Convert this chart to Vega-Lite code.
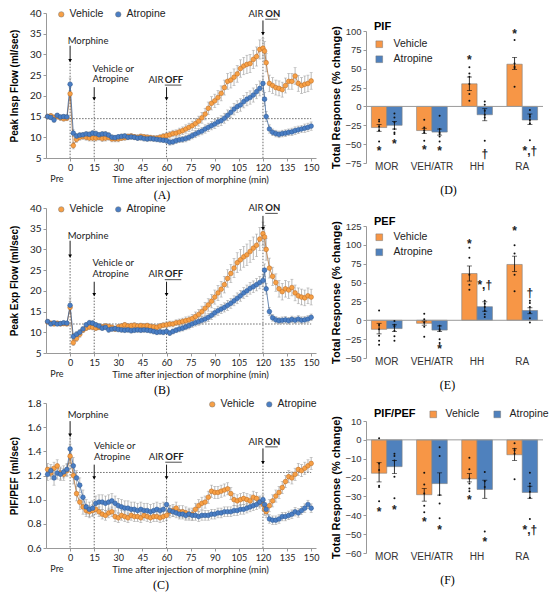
{
  "$schema": "https://vega.github.io/schema/vega-lite/v6.json",
  "background": "white",
  "padding": {"left": 9, "top": 8, "right": 3, "bottom": 2},
  "columns": 2,
  "bounds": "flush",
  "spacing": {"row": 44, "column": 50},
  "resolve": {"scale": {"color": "independent"}, "legend": {"color": "independent"}},
  "config": {"view": {"stroke": null}, "axis": {"grid": false, "labelOverlap": false}, "axisY": {"labelOverlap": false}, "legend": {"padding": 0}},
  "datasets": {
    "A": [
      {"t":-14,"v":15.0,"ve":0.6,"w":15.0,"we":0.5},{"t":-12,"v":15.2,"ve":0.6,"w":14.8,"we":0.5},{"t":-10,"v":14.8,"ve":0.6,"w":14.2,"we":0.6},{"t":-8,"v":15.0,"ve":0.6,"w":15.3,"we":0.5},{"t":-6,"v":14.7,"ve":0.6,"w":14.9,"we":0.5},{"t":-4,"v":14.5,"ve":0.6,"w":15.0,"we":0.5},{"t":-2,"v":14.6,"ve":0.6,"w":14.9,"we":0.5},
      {"t":0,"v":20.5,"ve":1.5,"w":22.8,"we":1.5},{"t":2,"v":8.0,"ve":0.8,"w":11.0,"we":0.8},{"t":4,"v":9.5,"ve":0.7,"w":10.3,"we":0.6},{"t":6,"v":10.0,"ve":0.7,"w":10.5,"we":0.6},{"t":8,"v":10.2,"ve":0.7,"w":10.6,"we":0.6},{"t":10,"v":10.0,"ve":0.7,"w":10.8,"we":0.6},{"t":12,"v":9.8,"ve":0.7,"w":10.7,"we":0.6},{"t":14,"v":9.8,"ve":0.7,"w":11.0,"we":0.6},{"t":16,"v":9.8,"ve":0.7,"w":10.9,"we":0.6},{"t":18,"v":10.0,"ve":0.7,"w":10.6,"we":0.6},{"t":20,"v":9.7,"ve":0.7,"w":10.8,"we":0.6},{"t":22,"v":9.8,"ve":0.7,"w":10.8,"we":0.6},{"t":24,"v":10.0,"ve":0.7,"w":10.5,"we":0.6},{"t":26,"v":9.6,"ve":0.7,"w":10.0,"we":0.6},{"t":28,"v":9.6,"ve":0.7,"w":9.9,"we":0.6},{"t":30,"v":9.6,"ve":0.7,"w":10.1,"we":0.6},
      {"t":32,"v":9.8,"ve":0.6,"w":10.2,"we":0.6},{"t":34,"v":9.9,"ve":0.6,"w":10.3,"we":0.6},{"t":36,"v":10.2,"ve":0.6,"w":10.0,"we":0.6},{"t":38,"v":10.3,"ve":0.6,"w":10.1,"we":0.6},{"t":40,"v":10.1,"ve":0.6,"w":10.0,"we":0.6},{"t":42,"v":10.0,"ve":0.6,"w":9.8,"we":0.6},{"t":44,"v":10.2,"ve":0.6,"w":9.9,"we":0.6},{"t":46,"v":10.1,"ve":0.6,"w":9.7,"we":0.6},{"t":48,"v":10.0,"ve":0.6,"w":9.6,"we":0.6},{"t":50,"v":9.9,"ve":0.6,"w":9.7,"we":0.6},{"t":52,"v":9.8,"ve":0.6,"w":9.6,"we":0.6},{"t":54,"v":9.8,"ve":0.6,"w":9.5,"we":0.6},{"t":56,"v":10.0,"ve":0.6,"w":9.4,"we":0.6},{"t":58,"v":10.2,"ve":0.7,"w":9.3,"we":0.6},{"t":60,"v":10.4,"ve":0.7,"w":9.2,"we":0.7},
      {"t":62,"v":10.6,"ve":0.8,"w":8.8,"we":0.7},{"t":64,"v":10.9,"ve":0.8,"w":8.9,"we":0.7},{"t":66,"v":11.0,"ve":0.8,"w":9.2,"we":0.7},{"t":68,"v":11.3,"ve":0.9,"w":9.4,"we":0.7},{"t":70,"v":11.6,"ve":0.9,"w":9.5,"we":0.7},{"t":72,"v":12.0,"ve":1.0,"w":9.7,"we":0.8},{"t":74,"v":12.4,"ve":1.0,"w":10.0,"we":0.8},{"t":76,"v":12.8,"ve":1.1,"w":10.4,"we":0.8},{"t":78,"v":13.3,"ve":1.2,"w":10.8,"we":0.9},{"t":80,"v":13.9,"ve":1.2,"w":11.2,"we":0.9},{"t":82,"v":14.7,"ve":1.3,"w":11.5,"we":0.9},{"t":84,"v":15.6,"ve":1.4,"w":12.0,"we":1.0},{"t":86,"v":17.0,"ve":1.5,"w":12.4,"we":1.0},{"t":88,"v":18.2,"ve":1.6,"w":12.8,"we":1.0},{"t":90,"v":18.8,"ve":1.6,"w":13.2,"we":1.1},
      {"t":92,"v":19.6,"ve":1.7,"w":13.7,"we":1.1},{"t":94,"v":20.6,"ve":1.8,"w":14.0,"we":1.2},{"t":96,"v":22.0,"ve":1.8,"w":14.6,"we":1.2},{"t":98,"v":23.5,"ve":1.9,"w":15.3,"we":1.3},{"t":100,"v":23.8,"ve":1.9,"w":16.0,"we":1.3},{"t":102,"v":24.5,"ve":2.0,"w":16.8,"we":1.4},{"t":104,"v":25.3,"ve":2.0,"w":17.4,"we":1.4},{"t":106,"v":26.6,"ve":2.1,"w":17.8,"we":1.5},{"t":108,"v":27.2,"ve":2.1,"w":18.6,"we":1.5},{"t":110,"v":27.6,"ve":2.2,"w":19.2,"we":1.6},{"t":112,"v":27.8,"ve":2.2,"w":19.6,"we":1.6},{"t":114,"v":28.8,"ve":2.2,"w":20.2,"we":1.7},{"t":116,"v":29.5,"ve":2.3,"w":21.0,"we":1.7},{"t":118,"v":31.2,"ve":2.3,"w":21.8,"we":1.8},{"t":120,"v":31.5,"ve":2.4,"w":23.0,"we":1.8},
      {"t":121,"v":30.8,"ve":2.3,"w":19.2,"we":1.6},{"t":122,"v":28.0,"ve":2.2,"w":15.0,"we":1.2},{"t":124,"v":23.0,"ve":2.0,"w":12.0,"we":1.0},{"t":126,"v":22.5,"ve":1.9,"w":11.2,"we":0.8},{"t":128,"v":22.0,"ve":1.8,"w":10.9,"we":0.8},{"t":130,"v":21.8,"ve":1.8,"w":10.7,"we":0.8},{"t":132,"v":21.5,"ve":1.8,"w":10.9,"we":0.8},{"t":134,"v":22.5,"ve":1.8,"w":11.0,"we":0.8},{"t":136,"v":23.5,"ve":1.9,"w":11.2,"we":0.8},{"t":138,"v":23.5,"ve":1.9,"w":11.3,"we":0.9},{"t":140,"v":24.8,"ve":2.0,"w":11.6,"we":0.9},{"t":142,"v":23.0,"ve":1.9,"w":11.8,"we":0.9},{"t":144,"v":22.5,"ve":1.9,"w":12.0,"we":0.9},{"t":146,"v":22.8,"ve":2.0,"w":12.2,"we":1.0},{"t":148,"v":23.0,"ve":2.0,"w":12.4,"we":1.0},{"t":150,"v":23.6,"ve":2.0,"w":12.7,"we":1.0}
    ],
    "B": [
      {"t":-14,"v":12.5,"ve":0.4,"w":12.6,"we":0.4},{"t":-12,"v":12.2,"ve":0.4,"w":12.0,"we":0.4},{"t":-10,"v":12.0,"ve":0.4,"w":12.3,"we":0.4},{"t":-8,"v":12.2,"ve":0.4,"w":12.0,"we":0.4},{"t":-6,"v":12.0,"ve":0.4,"w":12.1,"we":0.4},{"t":-4,"v":12.1,"ve":0.4,"w":12.3,"we":0.4},{"t":-2,"v":12.0,"ve":0.4,"w":12.2,"we":0.4},
      {"t":0,"v":16.0,"ve":1.5,"w":16.5,"we":1.8},{"t":2,"v":7.5,"ve":0.7,"w":9.0,"we":0.7},{"t":4,"v":8.5,"ve":0.7,"w":9.5,"we":0.7},{"t":6,"v":9.5,"ve":0.7,"w":10.0,"we":0.7},{"t":8,"v":10.5,"ve":0.6,"w":10.8,"we":0.6},{"t":10,"v":11.0,"ve":0.6,"w":11.8,"we":0.6},{"t":12,"v":11.3,"ve":0.6,"w":12.3,"we":0.6},{"t":14,"v":11.2,"ve":0.6,"w":12.2,"we":0.6},{"t":16,"v":11.0,"ve":0.6,"w":11.8,"we":0.6},{"t":18,"v":11.2,"ve":0.6,"w":11.5,"we":0.6},{"t":20,"v":11.3,"ve":0.6,"w":11.0,"we":0.6},{"t":22,"v":11.5,"ve":0.6,"w":11.2,"we":0.6},{"t":24,"v":11.4,"ve":0.6,"w":10.6,"we":0.6},{"t":26,"v":11.2,"ve":0.6,"w":10.8,"we":0.6},{"t":28,"v":10.8,"ve":0.6,"w":10.9,"we":0.6},{"t":30,"v":11.3,"ve":0.6,"w":10.7,"we":0.6},
      {"t":32,"v":11.5,"ve":0.6,"w":10.6,"we":0.6},{"t":34,"v":11.8,"ve":0.6,"w":10.5,"we":0.6},{"t":36,"v":11.5,"ve":0.6,"w":10.6,"we":0.6},{"t":38,"v":11.6,"ve":0.6,"w":10.4,"we":0.6},{"t":40,"v":11.7,"ve":0.6,"w":10.5,"we":0.6},{"t":42,"v":11.5,"ve":0.6,"w":10.6,"we":0.6},{"t":44,"v":11.6,"ve":0.6,"w":10.5,"we":0.6},{"t":46,"v":11.5,"ve":0.6,"w":10.6,"we":0.6},{"t":48,"v":11.6,"ve":0.6,"w":10.5,"we":0.6},{"t":50,"v":11.4,"ve":0.6,"w":10.4,"we":0.6},{"t":52,"v":11.3,"ve":0.6,"w":10.2,"we":0.6},{"t":54,"v":11.2,"ve":0.6,"w":10.0,"we":0.6},{"t":56,"v":11.5,"ve":0.6,"w":10.1,"we":0.6},{"t":58,"v":11.7,"ve":0.6,"w":10.0,"we":0.6},{"t":60,"v":11.8,"ve":0.7,"w":10.2,"we":0.6},
      {"t":62,"v":12.0,"ve":0.7,"w":9.8,"we":0.6},{"t":64,"v":12.0,"ve":0.7,"w":10.2,"we":0.6},{"t":66,"v":12.3,"ve":0.7,"w":10.5,"we":0.6},{"t":68,"v":12.4,"ve":0.8,"w":10.8,"we":0.7},{"t":70,"v":12.6,"ve":0.8,"w":11.0,"we":0.7},{"t":72,"v":12.8,"ve":0.9,"w":11.3,"we":0.7},{"t":74,"v":13.0,"ve":0.9,"w":11.6,"we":0.8},{"t":76,"v":13.3,"ve":1.0,"w":12.0,"we":0.8},{"t":78,"v":13.8,"ve":1.1,"w":12.3,"we":0.8},{"t":80,"v":14.3,"ve":1.2,"w":12.6,"we":0.9},{"t":82,"v":15.0,"ve":1.3,"w":12.9,"we":0.9},{"t":84,"v":15.8,"ve":1.4,"w":13.2,"we":0.9},{"t":86,"v":16.6,"ve":1.5,"w":13.6,"we":1.0},{"t":88,"v":17.5,"ve":1.6,"w":14.1,"we":1.0},{"t":90,"v":18.5,"ve":1.7,"w":14.7,"we":1.0},
      {"t":92,"v":19.5,"ve":1.8,"w":15.2,"we":1.1},{"t":94,"v":20.4,"ve":1.9,"w":15.6,"we":1.1},{"t":96,"v":21.5,"ve":2.0,"w":16.0,"we":1.1},{"t":98,"v":23.0,"ve":2.1,"w":16.5,"we":1.2},{"t":100,"v":24.2,"ve":2.2,"w":17.0,"we":1.2},{"t":102,"v":25.5,"ve":2.3,"w":17.6,"we":1.2},{"t":104,"v":26.8,"ve":2.4,"w":18.2,"we":1.3},{"t":106,"v":27.5,"ve":2.5,"w":18.8,"we":1.3},{"t":108,"v":28.2,"ve":2.5,"w":19.5,"we":1.3},{"t":110,"v":28.7,"ve":2.6,"w":20.0,"we":1.4},{"t":112,"v":29.5,"ve":2.6,"w":20.6,"we":1.4},{"t":114,"v":30.3,"ve":2.7,"w":21.0,"we":1.4},{"t":116,"v":31.0,"ve":2.7,"w":21.5,"we":1.5},{"t":118,"v":32.5,"ve":2.8,"w":22.0,"we":1.5},{"t":120,"v":33.8,"ve":2.8,"w":22.5,"we":1.5},
      {"t":121,"v":33.0,"ve":2.8,"w":25.0,"we":1.5},{"t":122,"v":30.0,"ve":2.6,"w":20.5,"we":1.3},{"t":124,"v":25.5,"ve":2.4,"w":15.0,"we":1.0},{"t":126,"v":23.5,"ve":2.2,"w":13.5,"we":0.8},{"t":128,"v":22.0,"ve":2.1,"w":13.0,"we":0.8},{"t":130,"v":20.5,"ve":2.0,"w":12.8,"we":0.8},{"t":132,"v":19.8,"ve":2.0,"w":12.9,"we":0.8},{"t":134,"v":20.5,"ve":2.0,"w":13.0,"we":0.8},{"t":136,"v":20.2,"ve":2.0,"w":12.8,"we":0.8},{"t":138,"v":20.8,"ve":2.0,"w":13.1,"we":0.8},{"t":140,"v":19.5,"ve":1.9,"w":12.9,"we":0.8},{"t":142,"v":18.8,"ve":1.9,"w":13.2,"we":0.8},{"t":144,"v":18.5,"ve":1.9,"w":12.9,"we":0.8},{"t":146,"v":18.3,"ve":1.9,"w":13.0,"we":0.8},{"t":148,"v":18.8,"ve":1.9,"w":13.2,"we":0.8},{"t":150,"v":18.5,"ve":1.9,"w":13.6,"we":0.8}
    ],
    "C": [
      {"t":-14,"v":1.25,"ve":0.05,"w":1.21,"we":0.05},{"t":-12,"v":1.22,"ve":0.05,"w":1.24,"we":0.05},{"t":-10,"v":1.26,"ve":0.05,"w":1.18,"we":0.06},{"t":-8,"v":1.28,"ve":0.05,"w":1.22,"we":0.05},{"t":-6,"v":1.22,"ve":0.05,"w":1.21,"we":0.05},{"t":-4,"v":1.21,"ve":0.05,"w":1.23,"we":0.05},{"t":-2,"v":1.24,"ve":0.05,"w":1.25,"we":0.05},
      {"t":0,"v":1.36,"ve":0.1,"w":1.42,"we":0.12},{"t":2,"v":1.20,"ve":0.07,"w":1.28,"we":0.07},{"t":4,"v":1.05,"ve":0.06,"w":1.18,"we":0.06},{"t":6,"v":0.98,"ve":0.06,"w":1.12,"we":0.06},{"t":8,"v":0.94,"ve":0.06,"w":1.02,"we":0.06},{"t":10,"v":0.91,"ve":0.05,"w":0.94,"we":0.06},{"t":12,"v":0.90,"ve":0.05,"w":0.92,"we":0.06},{"t":14,"v":0.91,"ve":0.05,"w":0.93,"we":0.06},{"t":16,"v":0.92,"ve":0.04,"w":0.97,"we":0.06},{"t":18,"v":0.90,"ve":0.04,"w":0.98,"we":0.06},{"t":20,"v":0.88,"ve":0.04,"w":0.98,"we":0.06},{"t":22,"v":0.87,"ve":0.04,"w":0.97,"we":0.06},{"t":24,"v":0.89,"ve":0.04,"w":0.98,"we":0.06},{"t":26,"v":0.90,"ve":0.04,"w":0.99,"we":0.06},{"t":28,"v":0.86,"ve":0.04,"w":0.97,"we":0.06},{"t":30,"v":0.85,"ve":0.04,"w":0.95,"we":0.06},
      {"t":32,"v":0.87,"ve":0.04,"w":0.94,"we":0.06},{"t":34,"v":0.86,"ve":0.04,"w":0.93,"we":0.06},{"t":36,"v":0.85,"ve":0.04,"w":0.93,"we":0.06},{"t":38,"v":0.87,"ve":0.04,"w":0.92,"we":0.06},{"t":40,"v":0.86,"ve":0.04,"w":0.92,"we":0.06},{"t":42,"v":0.86,"ve":0.04,"w":0.91,"we":0.06},{"t":44,"v":0.85,"ve":0.04,"w":0.92,"we":0.06},{"t":46,"v":0.87,"ve":0.04,"w":0.91,"we":0.06},{"t":48,"v":0.86,"ve":0.04,"w":0.91,"we":0.06},{"t":50,"v":0.85,"ve":0.04,"w":0.90,"we":0.06},{"t":52,"v":0.86,"ve":0.04,"w":0.91,"we":0.06},{"t":54,"v":0.86,"ve":0.04,"w":0.92,"we":0.06},{"t":56,"v":0.85,"ve":0.04,"w":0.91,"we":0.06},{"t":58,"v":0.86,"ve":0.04,"w":0.92,"we":0.06},{"t":60,"v":0.87,"ve":0.04,"w":0.96,"we":0.06},
      {"t":62,"v":0.90,"ve":0.05,"w":0.91,"we":0.04},{"t":64,"v":0.91,"ve":0.05,"w":0.90,"we":0.04},{"t":66,"v":0.93,"ve":0.05,"w":0.89,"we":0.04},{"t":68,"v":0.90,"ve":0.05,"w":0.88,"we":0.04},{"t":70,"v":0.90,"ve":0.05,"w":0.88,"we":0.04},{"t":72,"v":0.89,"ve":0.05,"w":0.87,"we":0.04},{"t":74,"v":0.88,"ve":0.05,"w":0.88,"we":0.04},{"t":76,"v":0.88,"ve":0.05,"w":0.87,"we":0.04},{"t":78,"v":0.92,"ve":0.05,"w":0.87,"we":0.04},{"t":80,"v":0.95,"ve":0.05,"w":0.86,"we":0.04},{"t":82,"v":0.97,"ve":0.05,"w":0.87,"we":0.04},{"t":84,"v":0.98,"ve":0.05,"w":0.87,"we":0.04},{"t":86,"v":1.02,"ve":0.05,"w":0.87,"we":0.04},{"t":88,"v":1.07,"ve":0.05,"w":0.88,"we":0.04},{"t":90,"v":1.06,"ve":0.05,"w":0.88,"we":0.04},
      {"t":92,"v":1.06,"ve":0.05,"w":0.89,"we":0.04},{"t":94,"v":1.07,"ve":0.05,"w":0.89,"we":0.04},{"t":96,"v":1.08,"ve":0.05,"w":0.90,"we":0.04},{"t":98,"v":1.09,"ve":0.05,"w":0.90,"we":0.04},{"t":100,"v":1.05,"ve":0.05,"w":0.90,"we":0.04},{"t":102,"v":1.00,"ve":0.05,"w":0.91,"we":0.04},{"t":104,"v":0.99,"ve":0.05,"w":0.91,"we":0.04},{"t":106,"v":1.00,"ve":0.05,"w":0.92,"we":0.04},{"t":108,"v":1.01,"ve":0.05,"w":0.92,"we":0.04},{"t":110,"v":1.00,"ve":0.05,"w":0.93,"we":0.04},{"t":112,"v":0.99,"ve":0.05,"w":0.94,"we":0.04},{"t":114,"v":1.02,"ve":0.05,"w":0.95,"we":0.04},{"t":116,"v":1.01,"ve":0.05,"w":0.96,"we":0.04},{"t":118,"v":0.98,"ve":0.05,"w":0.98,"we":0.04},{"t":120,"v":0.96,"ve":0.05,"w":1.00,"we":0.04},
      {"t":121,"v":0.92,"ve":0.05,"w":0.96,"we":0.035},{"t":122,"v":0.90,"ve":0.05,"w":0.92,"we":0.035},{"t":124,"v":0.95,"ve":0.05,"w":0.84,"we":0.035},{"t":126,"v":0.99,"ve":0.05,"w":0.83,"we":0.035},{"t":128,"v":1.03,"ve":0.05,"w":0.83,"we":0.035},{"t":130,"v":1.06,"ve":0.05,"w":0.84,"we":0.035},{"t":132,"v":1.10,"ve":0.05,"w":0.86,"we":0.035},{"t":134,"v":1.15,"ve":0.05,"w":0.86,"we":0.035},{"t":136,"v":1.19,"ve":0.05,"w":0.87,"we":0.035},{"t":138,"v":1.18,"ve":0.05,"w":0.88,"we":0.035},{"t":140,"v":1.21,"ve":0.05,"w":0.90,"we":0.035},{"t":142,"v":1.25,"ve":0.05,"w":0.89,"we":0.035},{"t":144,"v":1.24,"ve":0.05,"w":0.91,"we":0.035},{"t":146,"v":1.26,"ve":0.05,"w":0.93,"we":0.035},{"t":148,"v":1.28,"ve":0.05,"w":0.96,"we":0.035},{"t":150,"v":1.30,"ve":0.05,"w":0.93,"we":0.035}
    ],
    "barD": [
      {"c":"MOR","g":"Vehicle","v":-28,"lo":-33,"hi":-24},{"c":"MOR","g":"Atropine","v":-25,"lo":-30,"hi":-20},
      {"c":"VEH/ATR","g":"Vehicle","v":-32,"lo":-36,"hi":-29},{"c":"VEH/ATR","g":"Atropine","v":-34,"lo":-38,"hi":-30},
      {"c":"HH","g":"Vehicle","v":30,"lo":21,"hi":39},{"c":"HH","g":"Atropine","v":-11,"lo":-19,"hi":-3},
      {"c":"RA","g":"Vehicle","v":56,"lo":49,"hi":65},{"c":"RA","g":"Atropine","v":-18,"lo":-24,"hi":-10}
    ],
    "barE": [
      {"c":"MOR","g":"Vehicle","v":-12,"lo":-18,"hi":-4},{"c":"MOR","g":"Atropine","v":-11,"lo":-15,"hi":-6},
      {"c":"VEH/ATR","g":"Vehicle","v":-4,"lo":-6.5,"hi":-1},{"c":"VEH/ATR","g":"Atropine","v":-13,"lo":-15,"hi":-7.5},
      {"c":"HH","g":"Vehicle","v":62,"lo":52,"hi":72},{"c":"HH","g":"Atropine","v":18,"lo":12,"hi":24.5},
      {"c":"RA","g":"Vehicle","v":74,"lo":64.5,"hi":85},{"c":"RA","g":"Atropine","v":13,"lo":8.7,"hi":16.6}
    ],
    "barF": [
      {"c":"MOR","g":"Vehicle","v":-17.7,"lo":-22.3,"hi":-12.1},{"c":"MOR","g":"Atropine","v":-14.2,"lo":-17.9,"hi":-10.9},
      {"c":"VEH/ATR","g":"Vehicle","v":-29.1,"lo":-32.5,"hi":-25.8},{"c":"VEH/ATR","g":"Atropine","v":-23.2,"lo":-29.3,"hi":-17.5},
      {"c":"HH","g":"Vehicle","v":-20.7,"lo":-22.3,"hi":-17.9},{"c":"HH","g":"Atropine","v":-26.3,"lo":-31,"hi":-21.4},
      {"c":"RA","g":"Vehicle","v":-7.9,"lo":-10.9,"hi":-4.7},{"c":"RA","g":"Atropine","v":-27.9,"lo":-31,"hi":-24.6}
    ],
    "dotD": [
      {"c":"MOR","g":"Vehicle","v":-17.7},{"c":"MOR","g":"Vehicle","v":-20},{"c":"MOR","g":"Vehicle","v":-26.5},{"c":"MOR","g":"Vehicle","v":-32},{"c":"MOR","g":"Vehicle","v":-46.5},
      {"c":"MOR","g":"Atropine","v":-9.3},{"c":"MOR","g":"Atropine","v":-14.6},{"c":"MOR","g":"Atropine","v":-21},{"c":"MOR","g":"Atropine","v":-30},{"c":"MOR","g":"Atropine","v":-34.5},{"c":"MOR","g":"Atropine","v":-36.7},
      {"c":"VEH/ATR","g":"Vehicle","v":-17.7},{"c":"VEH/ATR","g":"Vehicle","v":-28},{"c":"VEH/ATR","g":"Vehicle","v":-32},{"c":"VEH/ATR","g":"Vehicle","v":-34.5},{"c":"VEH/ATR","g":"Vehicle","v":-45.6},
      {"c":"VEH/ATR","g":"Atropine","v":-12.4},{"c":"VEH/ATR","g":"Atropine","v":-30},{"c":"VEH/ATR","g":"Atropine","v":-34.5},{"c":"VEH/ATR","g":"Atropine","v":-36.7},{"c":"VEH/ATR","g":"Atropine","v":-40},{"c":"VEH/ATR","g":"Atropine","v":-46.5},
      {"c":"HH","g":"Vehicle","v":51.8},{"c":"HH","g":"Vehicle","v":43.8},{"c":"HH","g":"Vehicle","v":39.4},{"c":"HH","g":"Vehicle","v":29.6},{"c":"HH","g":"Vehicle","v":16.4},{"c":"HH","g":"Vehicle","v":7.5},
      {"c":"HH","g":"Atropine","v":6.6},{"c":"HH","g":"Atropine","v":2.2},{"c":"HH","g":"Atropine","v":-5.8},{"c":"HH","g":"Atropine","v":-11},{"c":"HH","g":"Atropine","v":-14.6},{"c":"HH","g":"Atropine","v":-45.6},
      {"c":"RA","g":"Vehicle","v":88},{"c":"RA","g":"Vehicle","v":57},{"c":"RA","g":"Vehicle","v":52.7},{"c":"RA","g":"Vehicle","v":50.9},{"c":"RA","g":"Vehicle","v":26},
      {"c":"RA","g":"Atropine","v":-4.9},{"c":"RA","g":"Atropine","v":-11},{"c":"RA","g":"Atropine","v":-13.7},{"c":"RA","g":"Atropine","v":-18},{"c":"RA","g":"Atropine","v":-22.6},{"c":"RA","g":"Atropine","v":-44.7}
    ],
    "dotE": [
      {"c":"MOR","g":"Vehicle","v":13.1},{"c":"MOR","g":"Vehicle","v":-6.1},{"c":"MOR","g":"Vehicle","v":-11.8},{"c":"MOR","g":"Vehicle","v":-20.5},{"c":"MOR","g":"Vehicle","v":-27},{"c":"MOR","g":"Vehicle","v":-32.3},
      {"c":"MOR","g":"Atropine","v":-1},{"c":"MOR","g":"Atropine","v":-6},{"c":"MOR","g":"Atropine","v":-8.3},{"c":"MOR","g":"Atropine","v":-14},{"c":"MOR","g":"Atropine","v":-21},{"c":"MOR","g":"Atropine","v":-27},
      {"c":"VEH/ATR","g":"Vehicle","v":8.7},{"c":"VEH/ATR","g":"Vehicle","v":1.3},{"c":"VEH/ATR","g":"Vehicle","v":-3},{"c":"VEH/ATR","g":"Vehicle","v":-8.7},{"c":"VEH/ATR","g":"Vehicle","v":-21.8},
      {"c":"VEH/ATR","g":"Atropine","v":-7.4},{"c":"VEH/ATR","g":"Atropine","v":-11.8},{"c":"VEH/ATR","g":"Atropine","v":-14},{"c":"VEH/ATR","g":"Atropine","v":-25},{"c":"VEH/ATR","g":"Atropine","v":-30},
      {"c":"HH","g":"Vehicle","v":96},{"c":"HH","g":"Vehicle","v":83},{"c":"HH","g":"Vehicle","v":60.3},{"c":"HH","g":"Vehicle","v":47},{"c":"HH","g":"Vehicle","v":40.6},
      {"c":"HH","g":"Atropine","v":26},{"c":"HH","g":"Atropine","v":21.8},{"c":"HH","g":"Atropine","v":17.5},{"c":"HH","g":"Atropine","v":12.2},{"c":"HH","g":"Atropine","v":7.9},{"c":"HH","g":"Atropine","v":4.4},
      {"c":"RA","g":"Vehicle","v":99.6},{"c":"RA","g":"Vehicle","v":88.6},{"c":"RA","g":"Vehicle","v":60.3},{"c":"RA","g":"Vehicle","v":38.4},
      {"c":"RA","g":"Atropine","v":26},{"c":"RA","g":"Atropine","v":23},{"c":"RA","g":"Atropine","v":17.5},{"c":"RA","g":"Atropine","v":10},{"c":"RA","g":"Atropine","v":2.6},{"c":"RA","g":"Atropine","v":-3}
    ],
    "dotF": [
      {"c":"MOR","g":"Vehicle","v":0.9},{"c":"MOR","g":"Vehicle","v":-12.6},{"c":"MOR","g":"Vehicle","v":-16},{"c":"MOR","g":"Vehicle","v":-24.4},{"c":"MOR","g":"Vehicle","v":-25},{"c":"MOR","g":"Vehicle","v":-32.5},
      {"c":"MOR","g":"Atropine","v":-7.4},{"c":"MOR","g":"Atropine","v":-8.6},{"c":"MOR","g":"Atropine","v":-10.9},{"c":"MOR","g":"Atropine","v":-19.6},{"c":"MOR","g":"Atropine","v":-31},
      {"c":"VEH/ATR","g":"Vehicle","v":-17.4},{"c":"VEH/ATR","g":"Vehicle","v":-23.7},{"c":"VEH/ATR","g":"Vehicle","v":-28.4},{"c":"VEH/ATR","g":"Vehicle","v":-35},{"c":"VEH/ATR","g":"Vehicle","v":-38.4},
      {"c":"VEH/ATR","g":"Atropine","v":-3.9},{"c":"VEH/ATR","g":"Atropine","v":-8.6},{"c":"VEH/ATR","g":"Atropine","v":-29.3},{"c":"VEH/ATR","g":"Atropine","v":-33.7},{"c":"VEH/ATR","g":"Atropine","v":-41.6},
      {"c":"HH","g":"Vehicle","v":-9.5},{"c":"HH","g":"Vehicle","v":-15.6},{"c":"HH","g":"Vehicle","v":-20.5},{"c":"HH","g":"Vehicle","v":-23.2},{"c":"HH","g":"Vehicle","v":-25.8},{"c":"HH","g":"Vehicle","v":-27.2},
      {"c":"HH","g":"Atropine","v":-17},{"c":"HH","g":"Atropine","v":-22},{"c":"HH","g":"Atropine","v":-25},{"c":"HH","g":"Atropine","v":-48.6},
      {"c":"RA","g":"Vehicle","v":-1.8},{"c":"RA","g":"Vehicle","v":-4.7},{"c":"RA","g":"Vehicle","v":-5.6},{"c":"RA","g":"Vehicle","v":-7.4},{"c":"RA","g":"Vehicle","v":-20.9},
      {"c":"RA","g":"Atropine","v":-17.5},{"c":"RA","g":"Atropine","v":-23.2},{"c":"RA","g":"Atropine","v":-24.6},{"c":"RA","g":"Atropine","v":-27.5},{"c":"RA","g":"Atropine","v":-30.7},{"c":"RA","g":"Atropine","v":-42}
    ],
    "symD": [
      {"c":"MOR","g":"Vehicle","v":-56.6,"s":"*"},{"c":"MOR","g":"Atropine","v":-46.5,"s":"*"},{"c":"VEH/ATR","g":"Vehicle","v":-55,"s":"*"},{"c":"VEH/ATR","g":"Atropine","v":-56.6,"s":"*"},
      {"c":"HH","g":"Vehicle","v":63.7,"s":"*"},{"c":"HH","g":"Atropine","v":-60,"s":"†"},{"c":"RA","g":"Vehicle","v":99,"s":"*"},{"c":"RA","g":"Atropine","v":-56.6,"s":"*,†"}
    ],
    "symE": [
      {"c":"VEH/ATR","g":"Atropine","v":-35,"s":"*"},{"c":"HH","g":"Vehicle","v":104,"s":"*"},{"c":"HH","g":"Atropine","v":49,"s":"*,†"},{"c":"RA","g":"Vehicle","v":121,"s":"*"},{"c":"RA","g":"Atropine","v":39,"s":"†"}
    ],
    "symF": [
      {"c":"MOR","g":"Vehicle","v":-37.2,"s":"*"},{"c":"MOR","g":"Atropine","v":-36,"s":"*"},{"c":"VEH/ATR","g":"Vehicle","v":-42.5,"s":"*"},{"c":"VEH/ATR","g":"Atropine","v":-46.8,"s":"*"},
      {"c":"HH","g":"Vehicle","v":-31,"s":"*"},{"c":"HH","g":"Atropine","v":-53,"s":"*"},{"c":"RA","g":"Atropine","v":-46.8,"s":"*,†"}
    ]
  },
  "concat": [
    {
      "width": 270, "height": 145,
      "title": {"text": "(A)", "orient": "bottom", "font": "Liberation Serif", "fontSize": 12, "fontWeight": "normal", "color": "#000", "offset": 6, "dx": -19},
      "encoding": {"x": {"field": "t", "type": "quantitative", "title": "Time after injection of morphine (min)", "scale": {"domain": [-15, 153], "nice": false, "zero": false},
        "axis": {"values": [-8.5, 0, 15, 30, 45, 60, 75, 90, 105, 120, 135, 150], "labelExpr": "datum.value < -1 ? 'Pre' : datum.label",
          "labelPadding": {"condition": {"test": "datum.value < -1", "value": 13}, "value": 2}, "tickOpacity": {"condition": {"test": "datum.value < -1", "value": 0}, "value": 1},
          "labelFont": "Lato", "labelFontSize": 9, "labelColor": "#222", "labelFlush": false, "labelOverlap": false, "titleFont": "Lato", "titleFontSize": 9.5, "titleFontWeight": "normal", "titleColor": "#222",
          "titleX": 144, "titleY": 21, "titleBaseline": "middle", "domainColor": "#999", "tickColor": "#999", "tickSize": 3}}},
      "layer": [
        {"data": {"values": [{"t": 0, "y": 28.5}, {"t": 15, "y": 19.3}, {"t": 60, "y": 19.3}, {"t": 120, "y": 35}]},
          "mark": {"type": "rule", "color": "#444", "strokeDash": [1.5, 1.5], "strokeWidth": 0.8},
          "encoding": {"y": {"field": "y", "type": "quantitative", "title": "Peak Insp Flow (ml/sec)", "scale": {"domain": [5, 40], "nice": false, "zero": false},
            "axis": {"values": [5, 10, 15, 20, 25, 30, 35, 40], "labelOverlap": false, "labelFont": "Lato", "labelFontSize": 10, "labelColor": "#222", "titleFont": "Liberation Sans", "titleFontSize": 10, "titleFontWeight": "bold", "titleColor": "#000", "titlePadding": 10, "domainColor": "#999", "tickColor": "#999", "tickSize": 3}},
            "y2": {"datum": 5}}},
        {"data": {"values": [{"t": 0, "t2": 150, "y": 14.5}]},
          "mark": {"type": "rule", "color": "#444", "strokeDash": [1.5, 1.5], "strokeWidth": 0.8},
          "encoding": {"x2": {"field": "t2"}, "y": {"field": "y", "type": "quantitative", "title": "Peak Insp Flow (ml/sec)", "scale": {"domain": [5, 40], "nice": false, "zero": false}, "axis": {"values": [5, 10, 15, 20, 25, 30, 35, 40], "labelOverlap": false}}}},
        {"data": {"name": "A"}, "mark": {"type": "errorbar", "color": "#9c9c9c", "thickness": 0.7, "ticks": {"size": 3, "thickness": 0.7, "color": "#9c9c9c"}},
          "encoding": {"y": {"field": "v", "type": "quantitative", "title": "Peak Insp Flow (ml/sec)", "scale": {"domain": [5, 40], "nice": false, "zero": false}, "axis": {"values": [5, 10, 15, 20, 25, 30, 35, 40], "labelOverlap": false}}, "yError": {"field": "ve"}}},
        {"data": {"name": "A"}, "mark": {"type": "errorbar", "color": "#9c9c9c", "thickness": 0.7, "ticks": {"size": 3, "thickness": 0.7, "color": "#9c9c9c"}},
          "encoding": {"y": {"field": "w", "type": "quantitative", "title": "Peak Insp Flow (ml/sec)", "scale": {"domain": [5, 40], "nice": false, "zero": false}, "axis": {"values": [5, 10, 15, 20, 25, 30, 35, 40], "labelOverlap": false}}, "yError": {"field": "we"}}},
        {"data": {"name": "A"}, "mark": {"type": "line", "color": "#a85f1c", "strokeWidth": 0.7},
          "encoding": {"y": {"field": "v", "type": "quantitative", "title": "Peak Insp Flow (ml/sec)", "scale": {"domain": [5, 40], "nice": false, "zero": false}, "axis": {"values": [5, 10, 15, 20, 25, 30, 35, 40], "labelOverlap": false}}}},
        {"data": {"name": "A"}, "mark": {"type": "line", "color": "#2a5690", "strokeWidth": 0.7},
          "encoding": {"y": {"field": "w", "type": "quantitative", "title": "Peak Insp Flow (ml/sec)", "scale": {"domain": [5, 40], "nice": false, "zero": false}, "axis": {"values": [5, 10, 15, 20, 25, 30, 35, 40], "labelOverlap": false}}}},
        {"data": {"name": "A"}, "mark": {"type": "point", "filled": true, "size": 22, "opacity": 1, "stroke": "#b8661c", "strokeWidth": 0.5},
          "encoding": {"y": {"field": "v", "type": "quantitative", "title": "Peak Insp Flow (ml/sec)", "scale": {"domain": [5, 40], "nice": false, "zero": false}, "axis": {"values": [5, 10, 15, 20, 25, 30, 35, 40], "labelOverlap": false}},
            "color": {"datum": "Vehicle", "type": "nominal", "scale": {"domain": ["Vehicle", "Atropine"], "range": ["#F7A046", "#4A7EC4"]},
              "legend": {"title": null, "orient": "none", "legendX": 10, "legendY": -4, "direction": "horizontal", "symbolType": "circle", "symbolSize": 30, "symbolStrokeColor": "#777", "symbolStrokeWidth": 0.5, "labelFont": "Liberation Sans", "labelFontSize": 10.5, "labelColor": "#222", "labelOffset": 3, "columnPadding": 9, "padding": 0}}}},
        {"data": {"name": "A"}, "mark": {"type": "point", "filled": true, "size": 22, "opacity": 1, "stroke": "#2a5690", "strokeWidth": 0.5},
          "encoding": {"y": {"field": "w", "type": "quantitative", "title": "Peak Insp Flow (ml/sec)", "scale": {"domain": [5, 40], "nice": false, "zero": false}, "axis": {"values": [5, 10, 15, 20, 25, 30, 35, 40], "labelOverlap": false}},
            "color": {"datum": "Atropine", "type": "nominal", "scale": {"domain": ["Vehicle", "Atropine"], "range": ["#F7A046", "#4A7EC4"]}}}},
        {"data": {"values": [{"t": 0, "y": 32.1, "y2": 28.5}, {"t": 15, "y": 22.1, "y2": 19.3}, {"t": 60, "y": 22.1, "y2": 19.3}, {"t": 120, "y": 38.2, "y2": 35}]},
          "mark": {"type": "rule", "color": "#000", "strokeWidth": 0.9},
          "encoding": {"y": {"field": "y", "type": "quantitative", "title": "Peak Insp Flow (ml/sec)", "scale": {"domain": [5, 40], "nice": false, "zero": false}, "axis": {"values": [5, 10, 15, 20, 25, 30, 35, 40], "labelOverlap": false}}, "y2": {"field": "y2"}}},
        {"data": {"values": [{"t": 0, "y2": 28.5}, {"t": 15, "y2": 19.3}, {"t": 60, "y2": 19.3}, {"t": 120, "y2": 35}]},
          "mark": {"type": "point", "shape": "triangle-down", "filled": true, "color": "#000", "size": 14, "opacity": 1},
          "encoding": {"y": {"field": "y2", "type": "quantitative", "title": "Peak Insp Flow (ml/sec)", "scale": {"domain": [5, 40], "nice": false, "zero": false}, "axis": {"values": [5, 10, 15, 20, 25, 30, 35, 40], "labelOverlap": false}}}},
        {"data": {"values": [{"t": -1.5, "y": 33.2, "s": "Morphine"}, {"t": 14, "y": 26.5, "s": "Vehicle or"}, {"t": 14, "y": 24.0, "s": "Atropine"}]},
          "mark": {"type": "text", "align": "left", "baseline": "middle", "font": "Lato", "fontSize": 9.5, "color": "#222"},
          "encoding": {"y": {"field": "y", "type": "quantitative", "title": "Peak Insp Flow (ml/sec)", "scale": {"domain": [5, 40], "nice": false, "zero": false}, "axis": {"values": [5, 10, 15, 20, 25, 30, 35, 40], "labelOverlap": false}}, "text": {"field": "s"}}},
        {"data": {"values": [{"t": 58.1, "y": 23.9, "s": "AIR"}, {"t": 120.3, "y": 39.8, "s": "AIR"}]},
          "mark": {"type": "text", "align": "right", "baseline": "middle", "font": "Lato", "fontSize": 9.5, "color": "#222"},
          "encoding": {"y": {"field": "y", "type": "quantitative", "title": "Peak Insp Flow (ml/sec)", "scale": {"domain": [5, 40], "nice": false, "zero": false}, "axis": {"values": [5, 10, 15, 20, 25, 30, 35, 40], "labelOverlap": false}}, "text": {"field": "s"}}},
        {"data": {"values": [{"t": 58.9, "y": 23.9, "s": "OFF"}, {"t": 121.4, "y": 39.8, "s": "ON"}]},
          "mark": {"type": "text", "align": "left", "baseline": "middle", "font": "Lato", "fontSize": 9.5, "fontWeight": "bold", "color": "#222"},
          "encoding": {"y": {"field": "y", "type": "quantitative", "title": "Peak Insp Flow (ml/sec)", "scale": {"domain": [5, 40], "nice": false, "zero": false}, "axis": {"values": [5, 10, 15, 20, 25, 30, 35, 40], "labelOverlap": false}}, "text": {"field": "s"}}},
        {"data": {"values": [{"t": 58.9, "t2": 69.2, "y": 22.6}, {"t": 121.4, "t2": 129.2, "y": 38.5}]},
          "mark": {"type": "rule", "color": "#222", "strokeWidth": 0.8},
          "encoding": {"x2": {"field": "t2"}, "y": {"field": "y", "type": "quantitative", "title": "Peak Insp Flow (ml/sec)", "scale": {"domain": [5, 40], "nice": false, "zero": false}, "axis": {"values": [5, 10, 15, 20, 25, 30, 35, 40], "labelOverlap": false}}}}
      ]
    },
    {
      "width": 177, "height": 151,
      "title": {"text": "(D)", "orient": "bottom", "font": "Liberation Serif", "fontSize": 12, "fontWeight": "normal", "color": "#000", "offset": 14, "dx": -6},
      "layer": [
        {"data": {"name": "barD"}, "mark": {"type": "bar", "stroke": "#7f7f7f", "strokeWidth": 0.6},
          "encoding": {
            "x": {"field": "c", "type": "nominal", "title": null, "sort": ["MOR", "VEH/ATR", "HH", "RA"], "scale": {"paddingInner": 0.32, "paddingOuter": 0.12},
              "axis": {"labelFont": "Liberation Sans", "labelFontSize": 10, "labelColor": "#333", "labelAngle": 0, "domain": false, "ticks": false, "tickSize": 0, "labelPadding": 2, "labelBaseline": "middle"}},
            "xOffset": {"field": "g", "type": "nominal", "sort": ["Vehicle", "Atropine"]},
            "y": {"field": "v", "type": "quantitative", "title": "Total Response (% change)", "stack": null, "scale": {"domain": [-75, 100], "range": [150, 18], "nice": false, "zero": false},
              "axis": {"values": [-75, -50, -25, 0, 25, 50, 75, 100], "labelOverlap": false, "labelFont": "Liberation Sans", "labelFontSize": 9.5, "labelColor": "#333", "titleFont": "Liberation Sans", "titleFontSize": 11, "titleFontWeight": "bold", "titleColor": "#000", "titlePadding": 3, "domainColor": "#999", "tickColor": "#999", "tickSize": 3}},
            "color": {"field": "g", "type": "nominal", "sort": ["Vehicle", "Atropine"], "scale": {"domain": ["Vehicle", "Atropine"], "range": ["#F79646", "#4F81BD"]},
              "legend": {"title": "PIF", "orient": "none", "legendX": 8, "legendY": 8, "direction": "vertical", "symbolType": "square", "symbolSize": 45, "symbolStrokeColor": "#777", "symbolStrokeWidth": 0.5, "labelFont": "Liberation Sans", "labelFontSize": 10.5, "labelColor": "#222", "labelOffset": 9, "titleFont": "Liberation Sans", "titleFontSize": 11, "titleFontWeight": "bold", "titleColor": "#000", "titlePadding": 7, "rowPadding": 4, "padding": 0}}}},
        {"data": {"values": [{}]}, "mark": {"type": "rule", "color": "#9a9a9a", "strokeWidth": 1},
          "encoding": {"y": {"datum": 0, "type": "quantitative", "title": "Total Response (% change)", "scale": {"domain": [-75, 100], "range": [150, 18], "nice": false, "zero": false}, "axis": {"values": [-75, -50, -25, 0, 25, 50, 75, 100], "labelOverlap": false}}}},
        {"data": {"name": "barD"}, "mark": {"type": "rule", "color": "#000", "strokeWidth": 0.8},
          "encoding": {"x": {"field": "c", "type": "nominal", "title": null, "sort": ["MOR", "VEH/ATR", "HH", "RA"]}, "xOffset": {"field": "g", "type": "nominal", "sort": ["Vehicle", "Atropine"]},
            "y": {"field": "lo", "type": "quantitative", "title": "Total Response (% change)", "scale": {"domain": [-75, 100], "range": [150, 18], "nice": false, "zero": false}, "axis": {"values": [-75, -50, -25, 0, 25, 50, 75, 100], "labelOverlap": false}}, "y2": {"field": "hi"}}},
        {"data": {"name": "barD"}, "mark": {"type": "tick", "color": "#000", "thickness": 0.8, "size": 5},
          "encoding": {"x": {"field": "c", "type": "nominal", "title": null, "sort": ["MOR", "VEH/ATR", "HH", "RA"]}, "xOffset": {"field": "g", "type": "nominal", "sort": ["Vehicle", "Atropine"]},
            "y": {"field": "lo", "type": "quantitative", "title": "Total Response (% change)", "scale": {"domain": [-75, 100], "range": [150, 18], "nice": false, "zero": false}, "axis": {"values": [-75, -50, -25, 0, 25, 50, 75, 100], "labelOverlap": false}}}},
        {"data": {"name": "barD"}, "mark": {"type": "tick", "color": "#000", "thickness": 0.8, "size": 5},
          "encoding": {"x": {"field": "c", "type": "nominal", "title": null, "sort": ["MOR", "VEH/ATR", "HH", "RA"]}, "xOffset": {"field": "g", "type": "nominal", "sort": ["Vehicle", "Atropine"]},
            "y": {"field": "hi", "type": "quantitative", "title": "Total Response (% change)", "scale": {"domain": [-75, 100], "range": [150, 18], "nice": false, "zero": false}, "axis": {"values": [-75, -50, -25, 0, 25, 50, 75, 100], "labelOverlap": false}}}},
        {"data": {"name": "dotD"}, "mark": {"type": "circle", "color": "#111", "size": 4, "opacity": 1},
          "encoding": {"x": {"field": "c", "type": "nominal", "title": null, "sort": ["MOR", "VEH/ATR", "HH", "RA"]}, "xOffset": {"field": "g", "type": "nominal", "sort": ["Vehicle", "Atropine"]},
            "y": {"field": "v", "type": "quantitative", "title": "Total Response (% change)", "scale": {"domain": [-75, 100], "range": [150, 18], "nice": false, "zero": false}, "axis": {"values": [-75, -50, -25, 0, 25, 50, 75, 100], "labelOverlap": false}}}},
        {"data": {"name": "symD"}, "mark": {"type": "text", "font": "Liberation Sans", "fontSize": 12, "fontWeight": "bold", "color": "#222", "baseline": "middle", "dy": 2},
          "encoding": {"x": {"field": "c", "type": "nominal", "title": null, "sort": ["MOR", "VEH/ATR", "HH", "RA"]}, "xOffset": {"field": "g", "type": "nominal", "sort": ["Vehicle", "Atropine"]},
            "y": {"field": "v", "type": "quantitative", "title": "Total Response (% change)", "scale": {"domain": [-75, 100], "range": [150, 18], "nice": false, "zero": false}, "axis": {"values": [-75, -50, -25, 0, 25, 50, 75, 100], "labelOverlap": false}}, "text": {"field": "s"}}}
      ]
    },
    {
      "width": 270, "height": 145,
      "title": {"text": "(B)", "orient": "bottom", "font": "Liberation Serif", "fontSize": 12, "fontWeight": "normal", "color": "#000", "offset": 6, "dx": -19},
      "encoding": {"x": {"field": "t", "type": "quantitative", "title": "Time after injection of morphine (min)", "scale": {"domain": [-15, 153], "nice": false, "zero": false},
        "axis": {"values": [-8.5, 0, 15, 30, 45, 60, 75, 90, 105, 120, 135, 150], "labelExpr": "datum.value < -1 ? 'Pre' : datum.label",
          "labelPadding": {"condition": {"test": "datum.value < -1", "value": 13}, "value": 2}, "tickOpacity": {"condition": {"test": "datum.value < -1", "value": 0}, "value": 1},
          "labelFont": "Lato", "labelFontSize": 9, "labelColor": "#222", "labelFlush": false, "labelOverlap": false, "titleFont": "Lato", "titleFontSize": 9.5, "titleFontWeight": "normal", "titleColor": "#222",
          "titleX": 144, "titleY": 21, "titleBaseline": "middle", "domainColor": "#999", "tickColor": "#999", "tickSize": 3}}},
      "layer": [
        {"data": {"values": [{"t": 0, "y": 28.4}, {"t": 15, "y": 19.1}, {"t": 60, "y": 19.1}, {"t": 120, "y": 35}]},
          "mark": {"type": "rule", "color": "#444", "strokeDash": [1.5, 1.5], "strokeWidth": 0.8},
          "encoding": {"y": {"field": "y", "type": "quantitative", "title": "Peak Exp Flow (ml/sec)", "scale": {"domain": [5, 40], "nice": false, "zero": false},
            "axis": {"values": [5, 10, 15, 20, 25, 30, 35, 40], "labelOverlap": false, "labelFont": "Lato", "labelFontSize": 10, "labelColor": "#222", "titleFont": "Liberation Sans", "titleFontSize": 10, "titleFontWeight": "bold", "titleColor": "#000", "titlePadding": 10, "domainColor": "#999", "tickColor": "#999", "tickSize": 3}},
            "y2": {"datum": 5}}},
        {"data": {"values": [{"t": 0, "t2": 150, "y": 12}]},
          "mark": {"type": "rule", "color": "#444", "strokeDash": [1.5, 1.5], "strokeWidth": 0.8},
          "encoding": {"x2": {"field": "t2"}, "y": {"field": "y", "type": "quantitative", "title": "Peak Exp Flow (ml/sec)", "scale": {"domain": [5, 40], "nice": false, "zero": false}, "axis": {"values": [5, 10, 15, 20, 25, 30, 35, 40], "labelOverlap": false}}}},
        {"data": {"name": "B"}, "mark": {"type": "errorbar", "color": "#9c9c9c", "thickness": 0.7, "ticks": {"size": 3, "thickness": 0.7, "color": "#9c9c9c"}},
          "encoding": {"y": {"field": "v", "type": "quantitative", "title": "Peak Exp Flow (ml/sec)", "scale": {"domain": [5, 40], "nice": false, "zero": false}, "axis": {"values": [5, 10, 15, 20, 25, 30, 35, 40], "labelOverlap": false}}, "yError": {"field": "ve"}}},
        {"data": {"name": "B"}, "mark": {"type": "errorbar", "color": "#9c9c9c", "thickness": 0.7, "ticks": {"size": 3, "thickness": 0.7, "color": "#9c9c9c"}},
          "encoding": {"y": {"field": "w", "type": "quantitative", "title": "Peak Exp Flow (ml/sec)", "scale": {"domain": [5, 40], "nice": false, "zero": false}, "axis": {"values": [5, 10, 15, 20, 25, 30, 35, 40], "labelOverlap": false}}, "yError": {"field": "we"}}},
        {"data": {"name": "B"}, "mark": {"type": "line", "color": "#a85f1c", "strokeWidth": 0.7},
          "encoding": {"y": {"field": "v", "type": "quantitative", "title": "Peak Exp Flow (ml/sec)", "scale": {"domain": [5, 40], "nice": false, "zero": false}, "axis": {"values": [5, 10, 15, 20, 25, 30, 35, 40], "labelOverlap": false}}}},
        {"data": {"name": "B"}, "mark": {"type": "line", "color": "#2a5690", "strokeWidth": 0.7},
          "encoding": {"y": {"field": "w", "type": "quantitative", "title": "Peak Exp Flow (ml/sec)", "scale": {"domain": [5, 40], "nice": false, "zero": false}, "axis": {"values": [5, 10, 15, 20, 25, 30, 35, 40], "labelOverlap": false}}}},
        {"data": {"name": "B"}, "mark": {"type": "point", "filled": true, "size": 22, "opacity": 1, "stroke": "#b8661c", "strokeWidth": 0.5},
          "encoding": {"y": {"field": "v", "type": "quantitative", "title": "Peak Exp Flow (ml/sec)", "scale": {"domain": [5, 40], "nice": false, "zero": false}, "axis": {"values": [5, 10, 15, 20, 25, 30, 35, 40], "labelOverlap": false}},
            "color": {"datum": "Vehicle", "type": "nominal", "scale": {"domain": ["Vehicle", "Atropine"], "range": ["#F7A046", "#4A7EC4"]},
              "legend": {"title": null, "orient": "none", "legendX": 10, "legendY": -4, "direction": "horizontal", "symbolType": "circle", "symbolSize": 30, "symbolStrokeColor": "#777", "symbolStrokeWidth": 0.5, "labelFont": "Liberation Sans", "labelFontSize": 10.5, "labelColor": "#222", "labelOffset": 3, "columnPadding": 9, "padding": 0}}}},
        {"data": {"name": "B"}, "mark": {"type": "point", "filled": true, "size": 22, "opacity": 1, "stroke": "#2a5690", "strokeWidth": 0.5},
          "encoding": {"y": {"field": "w", "type": "quantitative", "title": "Peak Exp Flow (ml/sec)", "scale": {"domain": [5, 40], "nice": false, "zero": false}, "axis": {"values": [5, 10, 15, 20, 25, 30, 35, 40], "labelOverlap": false}},
            "color": {"datum": "Atropine", "type": "nominal", "scale": {"domain": ["Vehicle", "Atropine"], "range": ["#F7A046", "#4A7EC4"]}}}},
        {"data": {"values": [{"t": 0, "y": 32.1, "y2": 28.4}, {"t": 15, "y": 22.2, "y2": 19.1}, {"t": 60, "y": 22.2, "y2": 19.1}, {"t": 120, "y": 38.1, "y2": 35}]},
          "mark": {"type": "rule", "color": "#000", "strokeWidth": 0.9},
          "encoding": {"y": {"field": "y", "type": "quantitative", "title": "Peak Exp Flow (ml/sec)", "scale": {"domain": [5, 40], "nice": false, "zero": false}, "axis": {"values": [5, 10, 15, 20, 25, 30, 35, 40], "labelOverlap": false}}, "y2": {"field": "y2"}}},
        {"data": {"values": [{"t": 0, "y2": 28.4}, {"t": 15, "y2": 19.1}, {"t": 60, "y2": 19.1}, {"t": 120, "y2": 35}]},
          "mark": {"type": "point", "shape": "triangle-down", "filled": true, "color": "#000", "size": 14, "opacity": 1},
          "encoding": {"y": {"field": "y2", "type": "quantitative", "title": "Peak Exp Flow (ml/sec)", "scale": {"domain": [5, 40], "nice": false, "zero": false}, "axis": {"values": [5, 10, 15, 20, 25, 30, 35, 40], "labelOverlap": false}}}},
        {"data": {"values": [{"t": -1.5, "y": 33.3, "s": "Morphine"}, {"t": 14, "y": 26.7, "s": "Vehicle or"}, {"t": 14, "y": 24.0, "s": "Atropine"}]},
          "mark": {"type": "text", "align": "left", "baseline": "middle", "font": "Lato", "fontSize": 9.5, "color": "#222"},
          "encoding": {"y": {"field": "y", "type": "quantitative", "title": "Peak Exp Flow (ml/sec)", "scale": {"domain": [5, 40], "nice": false, "zero": false}, "axis": {"values": [5, 10, 15, 20, 25, 30, 35, 40], "labelOverlap": false}}, "text": {"field": "s"}}},
        {"data": {"values": [{"t": 58.1, "y": 24.0, "s": "AIR"}, {"t": 120.3, "y": 40.0, "s": "AIR"}]},
          "mark": {"type": "text", "align": "right", "baseline": "middle", "font": "Lato", "fontSize": 9.5, "color": "#222"},
          "encoding": {"y": {"field": "y", "type": "quantitative", "title": "Peak Exp Flow (ml/sec)", "scale": {"domain": [5, 40], "nice": false, "zero": false}, "axis": {"values": [5, 10, 15, 20, 25, 30, 35, 40], "labelOverlap": false}}, "text": {"field": "s"}}},
        {"data": {"values": [{"t": 58.9, "y": 24.0, "s": "OFF"}, {"t": 121.4, "y": 40.0, "s": "ON"}]},
          "mark": {"type": "text", "align": "left", "baseline": "middle", "font": "Lato", "fontSize": 9.5, "fontWeight": "bold", "color": "#222"},
          "encoding": {"y": {"field": "y", "type": "quantitative", "title": "Peak Exp Flow (ml/sec)", "scale": {"domain": [5, 40], "nice": false, "zero": false}, "axis": {"values": [5, 10, 15, 20, 25, 30, 35, 40], "labelOverlap": false}}, "text": {"field": "s"}}},
        {"data": {"values": [{"t": 58.9, "t2": 69.2, "y": 22.7}, {"t": 121.4, "t2": 129.2, "y": 38.7}]},
          "mark": {"type": "rule", "color": "#222", "strokeWidth": 0.8},
          "encoding": {"x2": {"field": "t2"}, "y": {"field": "y", "type": "quantitative", "title": "Peak Exp Flow (ml/sec)", "scale": {"domain": [5, 40], "nice": false, "zero": false}, "axis": {"values": [5, 10, 15, 20, 25, 30, 35, 40], "labelOverlap": false}}}}
      ]
    },
    {
      "width": 177, "height": 151,
      "title": {"text": "(E)", "orient": "bottom", "font": "Liberation Serif", "fontSize": 12, "fontWeight": "normal", "color": "#000", "offset": 14, "dx": -7},
      "layer": [
        {"data": {"name": "barE"}, "mark": {"type": "bar", "stroke": "#7f7f7f", "strokeWidth": 0.6},
          "encoding": {
            "x": {"field": "c", "type": "nominal", "title": null, "sort": ["MOR", "VEH/ATR", "HH", "RA"], "scale": {"paddingInner": 0.32, "paddingOuter": 0.12},
              "axis": {"labelFont": "Liberation Sans", "labelFontSize": 10, "labelColor": "#333", "labelAngle": 0, "domain": false, "ticks": false, "tickSize": 0, "labelPadding": 2, "labelBaseline": "middle"}},
            "xOffset": {"field": "g", "type": "nominal", "sort": ["Vehicle", "Atropine"]},
            "y": {"field": "v", "type": "quantitative", "title": "Total Response (% change)", "stack": null, "scale": {"domain": [-50, 125], "range": [150, 18], "nice": false, "zero": false},
              "axis": {"values": [-50, -25, 0, 25, 50, 75, 100, 125], "labelOverlap": false, "labelFont": "Liberation Sans", "labelFontSize": 9.5, "labelColor": "#333", "titleFont": "Liberation Sans", "titleFontSize": 11, "titleFontWeight": "bold", "titleColor": "#000", "titlePadding": 3, "domainColor": "#999", "tickColor": "#999", "tickSize": 3}},
            "color": {"field": "g", "type": "nominal", "sort": ["Vehicle", "Atropine"], "scale": {"domain": ["Vehicle", "Atropine"], "range": ["#F79646", "#4F81BD"]},
              "legend": {"title": "PEF", "orient": "none", "legendX": 8, "legendY": 8, "direction": "vertical", "symbolType": "square", "symbolSize": 45, "symbolStrokeColor": "#777", "symbolStrokeWidth": 0.5, "labelFont": "Liberation Sans", "labelFontSize": 10.5, "labelColor": "#222", "labelOffset": 9, "titleFont": "Liberation Sans", "titleFontSize": 11, "titleFontWeight": "bold", "titleColor": "#000", "titlePadding": 5, "rowPadding": 4, "padding": 0}}}},
        {"data": {"values": [{}]}, "mark": {"type": "rule", "color": "#9a9a9a", "strokeWidth": 1},
          "encoding": {"y": {"datum": 0, "type": "quantitative", "title": "Total Response (% change)", "scale": {"domain": [-50, 125], "range": [150, 18], "nice": false, "zero": false}, "axis": {"values": [-50, -25, 0, 25, 50, 75, 100, 125], "labelOverlap": false}}}},
        {"data": {"name": "barE"}, "mark": {"type": "rule", "color": "#000", "strokeWidth": 0.8},
          "encoding": {"x": {"field": "c", "type": "nominal", "title": null, "sort": ["MOR", "VEH/ATR", "HH", "RA"]}, "xOffset": {"field": "g", "type": "nominal", "sort": ["Vehicle", "Atropine"]},
            "y": {"field": "lo", "type": "quantitative", "title": "Total Response (% change)", "scale": {"domain": [-50, 125], "range": [150, 18], "nice": false, "zero": false}, "axis": {"values": [-50, -25, 0, 25, 50, 75, 100, 125], "labelOverlap": false}}, "y2": {"field": "hi"}}},
        {"data": {"name": "barE"}, "mark": {"type": "tick", "color": "#000", "thickness": 0.8, "size": 5},
          "encoding": {"x": {"field": "c", "type": "nominal", "title": null, "sort": ["MOR", "VEH/ATR", "HH", "RA"]}, "xOffset": {"field": "g", "type": "nominal", "sort": ["Vehicle", "Atropine"]},
            "y": {"field": "lo", "type": "quantitative", "title": "Total Response (% change)", "scale": {"domain": [-50, 125], "range": [150, 18], "nice": false, "zero": false}, "axis": {"values": [-50, -25, 0, 25, 50, 75, 100, 125], "labelOverlap": false}}}},
        {"data": {"name": "barE"}, "mark": {"type": "tick", "color": "#000", "thickness": 0.8, "size": 5},
          "encoding": {"x": {"field": "c", "type": "nominal", "title": null, "sort": ["MOR", "VEH/ATR", "HH", "RA"]}, "xOffset": {"field": "g", "type": "nominal", "sort": ["Vehicle", "Atropine"]},
            "y": {"field": "hi", "type": "quantitative", "title": "Total Response (% change)", "scale": {"domain": [-50, 125], "range": [150, 18], "nice": false, "zero": false}, "axis": {"values": [-50, -25, 0, 25, 50, 75, 100, 125], "labelOverlap": false}}}},
        {"data": {"name": "dotE"}, "mark": {"type": "circle", "color": "#111", "size": 4, "opacity": 1},
          "encoding": {"x": {"field": "c", "type": "nominal", "title": null, "sort": ["MOR", "VEH/ATR", "HH", "RA"]}, "xOffset": {"field": "g", "type": "nominal", "sort": ["Vehicle", "Atropine"]},
            "y": {"field": "v", "type": "quantitative", "title": "Total Response (% change)", "scale": {"domain": [-50, 125], "range": [150, 18], "nice": false, "zero": false}, "axis": {"values": [-50, -25, 0, 25, 50, 75, 100, 125], "labelOverlap": false}}}},
        {"data": {"name": "symE"}, "mark": {"type": "text", "font": "Liberation Sans", "fontSize": 12, "fontWeight": "bold", "color": "#222", "baseline": "middle", "dy": 2},
          "encoding": {"x": {"field": "c", "type": "nominal", "title": null, "sort": ["MOR", "VEH/ATR", "HH", "RA"]}, "xOffset": {"field": "g", "type": "nominal", "sort": ["Vehicle", "Atropine"]},
            "y": {"field": "v", "type": "quantitative", "title": "Total Response (% change)", "scale": {"domain": [-50, 125], "range": [150, 18], "nice": false, "zero": false}, "axis": {"values": [-50, -25, 0, 25, 50, 75, 100, 125], "labelOverlap": false}}, "text": {"field": "s"}}}
      ]
    },
    {
      "width": 270, "height": 145,
      "title": {"text": "(C)", "orient": "bottom", "font": "Liberation Serif", "fontSize": 12, "fontWeight": "normal", "color": "#000", "offset": 6, "dx": -20},
      "encoding": {"x": {"field": "t", "type": "quantitative", "title": "Time after injection of morphine (min)", "scale": {"domain": [-15, 153], "nice": false, "zero": false},
        "axis": {"values": [-8.5, 0, 15, 30, 45, 60, 75, 90, 105, 120, 135, 150], "labelExpr": "datum.value < -1 ? 'Pre' : datum.label",
          "labelPadding": {"condition": {"test": "datum.value < -1", "value": 13}, "value": 2}, "tickOpacity": {"condition": {"test": "datum.value < -1", "value": 0}, "value": 1},
          "labelFont": "Lato", "labelFontSize": 9, "labelColor": "#222", "labelFlush": false, "labelOverlap": false, "titleFont": "Lato", "titleFontSize": 9.5, "titleFontWeight": "normal", "titleColor": "#222",
          "titleX": 144, "titleY": 21, "titleBaseline": "middle", "domainColor": "#999", "tickColor": "#999", "tickSize": 3}}},
      "layer": [
        {"data": {"values": [{"t": 0, "y": 1.535}, {"t": 15, "y": 1.18}, {"t": 60, "y": 1.18}, {"t": 120, "y": 1.307}]},
          "mark": {"type": "rule", "color": "#444", "strokeDash": [1.5, 1.5], "strokeWidth": 0.8},
          "encoding": {"y": {"field": "y", "type": "quantitative", "title": "PIF/PEF (ml/sec)", "scale": {"domain": [0.6, 1.8], "nice": false, "zero": false},
            "axis": {"values": [0.6, 0.8, 1.0, 1.2, 1.4, 1.6, 1.8], "labelOverlap": false, "format": ".1f", "labelFont": "Lato", "labelFontSize": 10, "labelColor": "#222", "titleFont": "Liberation Sans", "titleFontSize": 10, "titleFontWeight": "bold", "titleColor": "#000", "titlePadding": 8, "domainColor": "#999", "tickColor": "#999", "tickSize": 3}},
            "y2": {"datum": 0.6}}},
        {"data": {"values": [{"t": 0, "t2": 150, "y": 1.225}]},
          "mark": {"type": "rule", "color": "#444", "strokeDash": [1.5, 1.5], "strokeWidth": 0.8},
          "encoding": {"x2": {"field": "t2"}, "y": {"field": "y", "type": "quantitative", "title": "PIF/PEF (ml/sec)", "scale": {"domain": [0.6, 1.8], "nice": false, "zero": false}, "axis": {"values": [0.6, 0.8, 1.0, 1.2, 1.4, 1.6, 1.8], "labelOverlap": false, "format": ".1f"}}}},
        {"data": {"name": "C"}, "mark": {"type": "errorbar", "color": "#9c9c9c", "thickness": 0.7, "ticks": {"size": 3, "thickness": 0.7, "color": "#9c9c9c"}},
          "encoding": {"y": {"field": "v", "type": "quantitative", "title": "PIF/PEF (ml/sec)", "scale": {"domain": [0.6, 1.8], "nice": false, "zero": false}, "axis": {"values": [0.6, 0.8, 1.0, 1.2, 1.4, 1.6, 1.8], "labelOverlap": false, "format": ".1f"}}, "yError": {"field": "ve"}}},
        {"data": {"name": "C"}, "mark": {"type": "errorbar", "color": "#9c9c9c", "thickness": 0.7, "ticks": {"size": 3, "thickness": 0.7, "color": "#9c9c9c"}},
          "encoding": {"y": {"field": "w", "type": "quantitative", "title": "PIF/PEF (ml/sec)", "scale": {"domain": [0.6, 1.8], "nice": false, "zero": false}, "axis": {"values": [0.6, 0.8, 1.0, 1.2, 1.4, 1.6, 1.8], "labelOverlap": false, "format": ".1f"}}, "yError": {"field": "we"}}},
        {"data": {"name": "C"}, "mark": {"type": "line", "color": "#a85f1c", "strokeWidth": 0.7},
          "encoding": {"y": {"field": "v", "type": "quantitative", "title": "PIF/PEF (ml/sec)", "scale": {"domain": [0.6, 1.8], "nice": false, "zero": false}, "axis": {"values": [0.6, 0.8, 1.0, 1.2, 1.4, 1.6, 1.8], "labelOverlap": false, "format": ".1f"}}}},
        {"data": {"name": "C"}, "mark": {"type": "line", "color": "#2a5690", "strokeWidth": 0.7},
          "encoding": {"y": {"field": "w", "type": "quantitative", "title": "PIF/PEF (ml/sec)", "scale": {"domain": [0.6, 1.8], "nice": false, "zero": false}, "axis": {"values": [0.6, 0.8, 1.0, 1.2, 1.4, 1.6, 1.8], "labelOverlap": false, "format": ".1f"}}}},
        {"data": {"name": "C"}, "mark": {"type": "point", "filled": true, "size": 22, "opacity": 1, "stroke": "#b8661c", "strokeWidth": 0.5},
          "encoding": {"y": {"field": "v", "type": "quantitative", "title": "PIF/PEF (ml/sec)", "scale": {"domain": [0.6, 1.8], "nice": false, "zero": false}, "axis": {"values": [0.6, 0.8, 1.0, 1.2, 1.4, 1.6, 1.8], "labelOverlap": false, "format": ".1f"}},
            "color": {"datum": "Vehicle", "type": "nominal", "scale": {"domain": ["Vehicle", "Atropine"], "range": ["#F7A046", "#4A7EC4"]},
              "legend": {"title": null, "orient": "none", "legendX": 161, "legendY": -4, "direction": "horizontal", "symbolType": "circle", "symbolSize": 30, "symbolStrokeColor": "#777", "symbolStrokeWidth": 0.5, "labelFont": "Liberation Sans", "labelFontSize": 10.5, "labelColor": "#222", "labelOffset": 3, "columnPadding": 9, "padding": 0}}}},
        {"data": {"name": "C"}, "mark": {"type": "point", "filled": true, "size": 22, "opacity": 1, "stroke": "#2a5690", "strokeWidth": 0.5},
          "encoding": {"y": {"field": "w", "type": "quantitative", "title": "PIF/PEF (ml/sec)", "scale": {"domain": [0.6, 1.8], "nice": false, "zero": false}, "axis": {"values": [0.6, 0.8, 1.0, 1.2, 1.4, 1.6, 1.8], "labelOverlap": false, "format": ".1f"}},
            "color": {"datum": "Atropine", "type": "nominal", "scale": {"domain": ["Vehicle", "Atropine"], "range": ["#F7A046", "#4A7EC4"]}}}},
        {"data": {"values": [{"t": 0, "y": 1.65, "y2": 1.535}, {"t": 15, "y": 1.29, "y2": 1.18}, {"t": 60, "y": 1.29, "y2": 1.18}, {"t": 120, "y": 1.424, "y2": 1.307}]},
          "mark": {"type": "rule", "color": "#000", "strokeWidth": 0.9},
          "encoding": {"y": {"field": "y", "type": "quantitative", "title": "PIF/PEF (ml/sec)", "scale": {"domain": [0.6, 1.8], "nice": false, "zero": false}, "axis": {"values": [0.6, 0.8, 1.0, 1.2, 1.4, 1.6, 1.8], "labelOverlap": false, "format": ".1f"}}, "y2": {"field": "y2"}}},
        {"data": {"values": [{"t": 0, "y2": 1.535}, {"t": 15, "y2": 1.18}, {"t": 60, "y2": 1.18}, {"t": 120, "y2": 1.307}]},
          "mark": {"type": "point", "shape": "triangle-down", "filled": true, "color": "#000", "size": 14, "opacity": 1},
          "encoding": {"y": {"field": "y2", "type": "quantitative", "title": "PIF/PEF (ml/sec)", "scale": {"domain": [0.6, 1.8], "nice": false, "zero": false}, "axis": {"values": [0.6, 0.8, 1.0, 1.2, 1.4, 1.6, 1.8], "labelOverlap": false, "format": ".1f"}}}},
        {"data": {"values": [{"t": -1.5, "y": 1.70, "s": "Morphine"}, {"t": 14.9, "y": 1.443, "s": "Vehicle or"}, {"t": 14.9, "y": 1.354, "s": "Atropine"}]},
          "mark": {"type": "text", "align": "left", "baseline": "middle", "font": "Lato", "fontSize": 9.5, "color": "#222"},
          "encoding": {"y": {"field": "y", "type": "quantitative", "title": "PIF/PEF (ml/sec)", "scale": {"domain": [0.6, 1.8], "nice": false, "zero": false}, "axis": {"values": [0.6, 0.8, 1.0, 1.2, 1.4, 1.6, 1.8], "labelOverlap": false, "format": ".1f"}}, "text": {"field": "s"}}},
        {"data": {"values": [{"t": 58.3, "y": 1.354, "s": "AIR"}, {"t": 120.3, "y": 1.48, "s": "AIR"}]},
          "mark": {"type": "text", "align": "right", "baseline": "middle", "font": "Lato", "fontSize": 9.5, "color": "#222"},
          "encoding": {"y": {"field": "y", "type": "quantitative", "title": "PIF/PEF (ml/sec)", "scale": {"domain": [0.6, 1.8], "nice": false, "zero": false}, "axis": {"values": [0.6, 0.8, 1.0, 1.2, 1.4, 1.6, 1.8], "labelOverlap": false, "format": ".1f"}}, "text": {"field": "s"}}},
        {"data": {"values": [{"t": 59.2, "y": 1.354, "s": "OFF"}, {"t": 121.4, "y": 1.48, "s": "ON"}]},
          "mark": {"type": "text", "align": "left", "baseline": "middle", "font": "Lato", "fontSize": 9.5, "fontWeight": "bold", "color": "#222"},
          "encoding": {"y": {"field": "y", "type": "quantitative", "title": "PIF/PEF (ml/sec)", "scale": {"domain": [0.6, 1.8], "nice": false, "zero": false}, "axis": {"values": [0.6, 0.8, 1.0, 1.2, 1.4, 1.6, 1.8], "labelOverlap": false, "format": ".1f"}}, "text": {"field": "s"}}},
        {"data": {"values": [{"t": 59.2, "t2": 69.5, "y": 1.31}, {"t": 121.4, "t2": 129.2, "y": 1.437}]},
          "mark": {"type": "rule", "color": "#222", "strokeWidth": 0.8},
          "encoding": {"x2": {"field": "t2"}, "y": {"field": "y", "type": "quantitative", "title": "PIF/PEF (ml/sec)", "scale": {"domain": [0.6, 1.8], "nice": false, "zero": false}, "axis": {"values": [0.6, 0.8, 1.0, 1.2, 1.4, 1.6, 1.8], "labelOverlap": false, "format": ".1f"}}}}
      ]
    },
    {
      "width": 177, "height": 151,
      "title": {"text": "(F)", "orient": "bottom", "font": "Liberation Serif", "fontSize": 12, "fontWeight": "normal", "color": "#000", "offset": 14, "dx": -7},
      "layer": [
        {"data": {"name": "barF"}, "mark": {"type": "bar", "stroke": "#7f7f7f", "strokeWidth": 0.6},
          "encoding": {
            "x": {"field": "c", "type": "nominal", "title": null, "sort": ["MOR", "VEH/ATR", "HH", "RA"], "scale": {"paddingInner": 0.32, "paddingOuter": 0.12},
              "axis": {"labelFont": "Liberation Sans", "labelFontSize": 10, "labelColor": "#333", "labelAngle": 0, "domain": false, "ticks": false, "tickSize": 0, "labelPadding": 2, "labelBaseline": "middle"}},
            "xOffset": {"field": "g", "type": "nominal", "sort": ["Vehicle", "Atropine"]},
            "y": {"field": "v", "type": "quantitative", "title": "Total Response (% change)", "stack": null, "scale": {"domain": [-60, 10], "range": [150, 18], "nice": false, "zero": false},
              "axis": {"values": [-60, -50, -40, -30, -20, -10, 0, 10], "labelOverlap": false, "labelFont": "Liberation Sans", "labelFontSize": 9.5, "labelColor": "#333", "titleFont": "Liberation Sans", "titleFontSize": 11, "titleFontWeight": "bold", "titleColor": "#000", "titlePadding": 3, "domainColor": "#999", "tickColor": "#999", "tickSize": 3}},
            "color": {"field": "g", "type": "nominal", "sort": ["Vehicle", "Atropine"], "scale": {"domain": ["Vehicle", "Atropine"], "range": ["#F79646", "#4F81BD"]},
              "legend": {"title": "PIF/PEF", "orient": "none", "legendX": 8, "legendY": 6, "direction": "horizontal", "titleOrient": "left", "symbolType": "square", "symbolSize": 45, "symbolStrokeColor": "#777", "symbolStrokeWidth": 0.5, "labelFont": "Liberation Sans", "labelFontSize": 10.5, "labelColor": "#222", "labelOffset": 7, "columnPadding": 12, "titleFont": "Liberation Sans", "titleFontSize": 11, "titleFontWeight": "bold", "titleColor": "#000", "titlePadding": 12, "padding": 0}}}},
        {"data": {"values": [{}]}, "mark": {"type": "rule", "color": "#9a9a9a", "strokeWidth": 1},
          "encoding": {"y": {"datum": 0, "type": "quantitative", "title": "Total Response (% change)", "scale": {"domain": [-60, 10], "range": [150, 18], "nice": false, "zero": false}, "axis": {"values": [-60, -50, -40, -30, -20, -10, 0, 10], "labelOverlap": false}}}},
        {"data": {"name": "barF"}, "mark": {"type": "rule", "color": "#000", "strokeWidth": 0.8},
          "encoding": {"x": {"field": "c", "type": "nominal", "title": null, "sort": ["MOR", "VEH/ATR", "HH", "RA"]}, "xOffset": {"field": "g", "type": "nominal", "sort": ["Vehicle", "Atropine"]},
            "y": {"field": "lo", "type": "quantitative", "title": "Total Response (% change)", "scale": {"domain": [-60, 10], "range": [150, 18], "nice": false, "zero": false}, "axis": {"values": [-60, -50, -40, -30, -20, -10, 0, 10], "labelOverlap": false}}, "y2": {"field": "hi"}}},
        {"data": {"name": "barF"}, "mark": {"type": "tick", "color": "#000", "thickness": 0.8, "size": 5},
          "encoding": {"x": {"field": "c", "type": "nominal", "title": null, "sort": ["MOR", "VEH/ATR", "HH", "RA"]}, "xOffset": {"field": "g", "type": "nominal", "sort": ["Vehicle", "Atropine"]},
            "y": {"field": "lo", "type": "quantitative", "title": "Total Response (% change)", "scale": {"domain": [-60, 10], "range": [150, 18], "nice": false, "zero": false}, "axis": {"values": [-60, -50, -40, -30, -20, -10, 0, 10], "labelOverlap": false}}}},
        {"data": {"name": "barF"}, "mark": {"type": "tick", "color": "#000", "thickness": 0.8, "size": 5},
          "encoding": {"x": {"field": "c", "type": "nominal", "title": null, "sort": ["MOR", "VEH/ATR", "HH", "RA"]}, "xOffset": {"field": "g", "type": "nominal", "sort": ["Vehicle", "Atropine"]},
            "y": {"field": "hi", "type": "quantitative", "title": "Total Response (% change)", "scale": {"domain": [-60, 10], "range": [150, 18], "nice": false, "zero": false}, "axis": {"values": [-60, -50, -40, -30, -20, -10, 0, 10], "labelOverlap": false}}}},
        {"data": {"name": "dotF"}, "mark": {"type": "circle", "color": "#111", "size": 4, "opacity": 1},
          "encoding": {"x": {"field": "c", "type": "nominal", "title": null, "sort": ["MOR", "VEH/ATR", "HH", "RA"]}, "xOffset": {"field": "g", "type": "nominal", "sort": ["Vehicle", "Atropine"]},
            "y": {"field": "v", "type": "quantitative", "title": "Total Response (% change)", "scale": {"domain": [-60, 10], "range": [150, 18], "nice": false, "zero": false}, "axis": {"values": [-60, -50, -40, -30, -20, -10, 0, 10], "labelOverlap": false}}}},
        {"data": {"name": "symF"}, "mark": {"type": "text", "font": "Liberation Sans", "fontSize": 12, "fontWeight": "bold", "color": "#222", "baseline": "middle", "dy": 2},
          "encoding": {"x": {"field": "c", "type": "nominal", "title": null, "sort": ["MOR", "VEH/ATR", "HH", "RA"]}, "xOffset": {"field": "g", "type": "nominal", "sort": ["Vehicle", "Atropine"]},
            "y": {"field": "v", "type": "quantitative", "title": "Total Response (% change)", "scale": {"domain": [-60, 10], "range": [150, 18], "nice": false, "zero": false}, "axis": {"values": [-60, -50, -40, -30, -20, -10, 0, 10], "labelOverlap": false}}, "text": {"field": "s"}}}
      ]
    }
  ]
}
